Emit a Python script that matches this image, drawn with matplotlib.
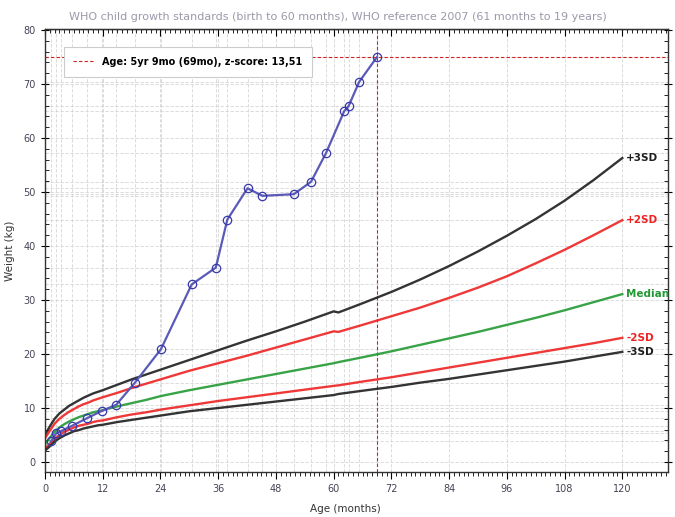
import numpy as np
import matplotlib.pyplot as plt
from matplotlib.ticker import MultipleLocator

# ---- patient measurements (age in months, weight in kg) ----
idade = [1.2, 2.3, 3.3, 5.6, 8.7, 11.9, 14.8, 18.7, 24.1, 30.5, 35.5, 37.9,
         42.1, 45.2, 51.7, 55.3, 58.4, 62.2, 63.1, 65.3, 69.0]
peso = [3.8, 5.3, 5.7, 6.7, 8.1, 9.5, 10.6, 14.7, 20.9, 32.9, 36.0, 44.9,
        50.7, 49.3, 49.6, 51.9, 57.2, 65.0, 65.9, 70.4, 75.0]

# ---- WHO child growth standards (0-60 months) ----
idade_who = [0, 1, 2, 3, 4, 5, 6, 7, 8, 9, 10, 11, 12, 15, 18, 21, 24, 30, 36, 42, 48, 54, 60]
who_m3 = [2.1, 2.9, 3.8, 4.4, 4.9, 5.3, 5.7, 5.9, 6.2, 6.4, 6.6, 6.8, 6.9, 7.4, 7.8, 8.2, 8.6, 9.4, 10.0, 10.6, 11.2, 11.8, 12.4]
who_m2 = [2.5, 3.4, 4.3, 5.0, 5.6, 6.0, 6.4, 6.7, 6.9, 7.1, 7.4, 7.6, 7.7, 8.3, 8.8, 9.2, 9.7, 10.5, 11.3, 12.0, 12.7, 13.4, 14.1]
who_med = [3.3, 4.5, 5.6, 6.4, 7.0, 7.5, 7.9, 8.3, 8.6, 8.9, 9.2, 9.4, 9.6, 10.3, 10.9, 11.5, 12.2, 13.3, 14.3, 15.3, 16.3, 17.3, 18.3]
who_p2 = [4.4, 5.8, 7.1, 8.0, 8.7, 9.3, 9.8, 10.3, 10.7, 11.0, 11.4, 11.7, 12.0, 12.8, 13.7, 14.5, 15.3, 16.9, 18.3, 19.7, 21.2, 22.7, 24.2]
who_p3 = [5.0, 6.6, 8.0, 9.0, 9.7, 10.4, 10.9, 11.4, 11.9, 12.3, 12.7, 13.0, 13.3, 14.3, 15.3, 16.2, 17.1, 18.9, 20.7, 22.5, 24.2, 26.0, 27.9]

# ---- WHO reference 2007 (61-120 months) ----
idade_ref = [61, 66, 72, 78, 84, 90, 96, 102, 108, 114, 120]
ref_m3 = [12.6, 13.2, 13.9, 14.7, 15.4, 16.2, 17.0, 17.8, 18.6, 19.5, 20.4]
ref_m2 = [14.2, 14.9, 15.7, 16.6, 17.5, 18.4, 19.3, 20.2, 21.1, 22.0, 23.0]
ref_med = [18.5, 19.4, 20.5, 21.7, 22.9, 24.1, 25.4, 26.7, 28.1, 29.6, 31.1]
ref_p2 = [24.1, 25.4, 27.0, 28.6, 30.4, 32.3, 34.4, 36.8, 39.3, 42.0, 44.8]
ref_p3 = [27.7, 29.4, 31.5, 33.8, 36.3, 39.0, 41.9, 45.0, 48.4, 52.2, 56.3]

rotulos = ['+3SD', '+2SD', 'Median', '-2SD', '-3SD']
cores = ['#1e1e1e', '#ee2222', '#229933', '#ee2222', '#1e1e1e']
curvas_who = [who_p3, who_p2, who_med, who_m2, who_m3]
curvas_ref = [ref_p3, ref_p2, ref_med, ref_m2, ref_m3]

fig = plt.figure(figsize=(6.75, 5.17), dpi=100)
ax = fig.add_axes([45/675, 1 - 472/517, 623/675, 443/517])

# grid lines at major ticks and at each measurement
grade = dict(color='#d6d6d6', linestyle=(0, (4, 2)), linewidth=0.6, zorder=0)
for xv in range(0, 121, 12):
    ax.axvline(xv, **grade)
for yv in range(0, 81, 10):
    ax.axhline(yv, **grade)
for xv in idade:
    ax.axvline(xv, **grade)
for yv in peso:
    ax.axhline(yv, **grade)

# reference curves (standards + 2007 reference drawn as one line)
for lab, cor, cw, cr in zip(rotulos, cores, curvas_who, curvas_ref):
    ax.plot(idade_who + idade_ref, cw + cr, color=cor, linewidth=1.7, zorder=2, alpha=0.9)
    ax.text(idade_ref[-1] + 0.8, cr[-1], lab, color=cor, fontsize=7.5,
            fontweight='bold', va='center', ha='left')

# crosshair at last measurement
ax.axvline(idade[-1], color='#cc2222', linestyle=(0, (3, 2)), linewidth=0.8, zorder=1)
ax.axhline(peso[-1], color='#cc2222', linestyle=(0, (3, 2)), linewidth=0.8, zorder=1)

# patient
ax.plot(idade, peso, color='#5a5ab8', linewidth=1.6, marker='o', markersize=6,
        markerfacecolor='none', markeredgecolor='#3838a8', markeredgewidth=0.9, zorder=3)

ax.set_xlim(0, 129.5)
ax.set_ylim(-1.85, 80.2)
ax.xaxis.set_major_locator(MultipleLocator(12))
ax.xaxis.set_minor_locator(MultipleLocator(1))
ax.yaxis.set_major_locator(MultipleLocator(10))
ax.yaxis.set_minor_locator(MultipleLocator(2))
ax.tick_params(axis='x', which='major', direction='out', length=5, labelsize=7,
               labelcolor='#444455')
ax.tick_params(axis='x', which='minor', direction='out', length=3)
ax.tick_params(axis='y', which='major', direction='inout', length=6, labelsize=7,
               labelcolor='#444455', right=True)
ax.tick_params(axis='y', which='minor', direction='in', length=3, right=True)
for s in ax.spines.values():
    s.set_color('#333333')
    s.set_linewidth(1.0)

# top axis: ticks pointing inward, no labels
topo = ax.secondary_xaxis('top')
topo.xaxis.set_major_locator(MultipleLocator(12))
topo.xaxis.set_minor_locator(MultipleLocator(1))
topo.tick_params(which='major', direction='in', length=5, labeltop=False)
topo.tick_params(which='minor', direction='in', length=3)

ax.set_ylabel('Weight (kg)', fontsize=7.5, color='#333333', labelpad=6)
fig.text(345/675, 1 - 509/517, 'Age (months)', ha='center', va='center',
         fontsize=7.5, color='#333333')
fig.text(0.5, 1 - 17/517, 'WHO child growth standards (birth to 60 months), '
         'WHO reference 2007 (61 months to 19 years)',
         ha='center', va='center', fontsize=8, color='#9a9aaa')

# legend box
leg_h, = ax.plot([], [], color='#cc2222', linestyle=(0, (3, 2)), linewidth=0.8)
leg = ax.legend([leg_h], ['Age: 5yr 9mo (69mo), z-score: 13,51'], loc='upper left',
                bbox_to_anchor=(0.022, 0.97), frameon=True, fancybox=False,
                framealpha=1, edgecolor='#cccccc', handlelength=2.2,
                prop={'size': 7, 'weight': 'bold'}, borderpad=1.0)
leg.get_frame().set_linewidth(0.8)

fig.savefig('out.png', dpi=100)
